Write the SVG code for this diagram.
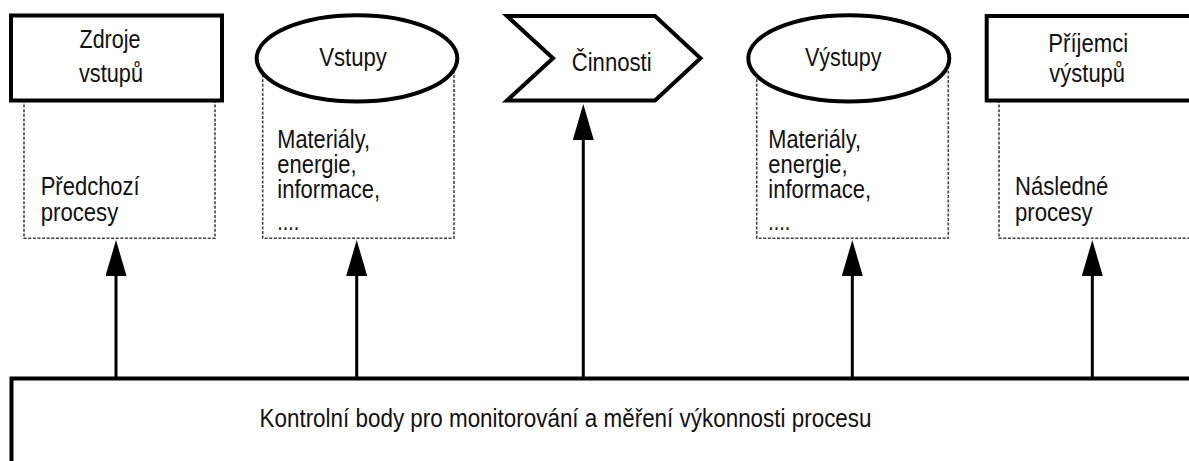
<svg xmlns="http://www.w3.org/2000/svg" width="1189" height="461" viewBox="0 0 1189 461">
  <style>
    text { font-family: "Liberation Sans", Arial, sans-serif; font-size: 25px; fill: #111; }
    .mid { text-anchor: middle; }
    .shape { fill: #fff; stroke: #000; stroke-width: 4; }
    .dash { fill: none; stroke: #444; stroke-width: 1.6; stroke-dasharray: 3 1.6; }
    .shaft { fill: none; stroke: #000; stroke-width: 3; }
  </style>
  <defs>
    <marker id="head" viewBox="0 0 36 21" refX="0" refY="10.5" markerWidth="36" markerHeight="21" markerUnits="userSpaceOnUse" orient="auto">
      <path d="M0,0 L36,10.5 L0,21 Z" fill="#000"/>
    </marker>
  </defs>

  <rect width="1189" height="461" fill="#fff"/>

  <!-- Sources of inputs -->
  <g id="zdroje">
    <path class="dash" d="M24,100 V238.3 H215 V100"/>
    <rect class="shape" x="11" y="15.5" width="211" height="85"/>
    <text class="mid" x="110" y="48.3" textLength="61" lengthAdjust="spacingAndGlyphs">Zdroje</text>
    <text class="mid" x="111" y="81.7" textLength="64" lengthAdjust="spacingAndGlyphs">vstupů</text>
    <text x="40.7" y="195" textLength="99" lengthAdjust="spacingAndGlyphs">Předchozí</text>
    <text x="40.7" y="220.7" textLength="77.6" lengthAdjust="spacingAndGlyphs">procesy</text>
  </g>

  <!-- Inputs -->
  <g id="vstupy">
    <path class="dash" d="M262.7,70 V238.3 H454 V70"/>
    <ellipse class="shape" cx="357" cy="58.4" rx="100.3" ry="43.2"/>
    <text class="mid" x="353" y="65.5" textLength="67.7" lengthAdjust="spacingAndGlyphs">Vstupy</text>
    <text x="277.3" y="148.3" textLength="92.7" lengthAdjust="spacingAndGlyphs">Materiály,</text>
    <text x="277.3" y="173.3" textLength="79.4" lengthAdjust="spacingAndGlyphs">energie,</text>
    <text x="277.3" y="198.3" textLength="102.7" lengthAdjust="spacingAndGlyphs">informace,</text>
    <text x="277.3" y="230" textLength="22" lengthAdjust="spacingAndGlyphs">....</text>
  </g>

  <!-- Activities -->
  <g id="cinnosti">
    <polygon class="shape" points="507,16 655,16 700.5,58.3 655,100.5 507,100.5 553,58.3"/>
    <text class="mid" x="611.7" y="70.5" textLength="80" lengthAdjust="spacingAndGlyphs">Činnosti</text>
  </g>

  <!-- Outputs -->
  <g id="vystupy">
    <path class="dash" d="M756.7,70 V238.3 H948.3 V70"/>
    <ellipse class="shape" cx="848.8" cy="58.4" rx="100.5" ry="43.2"/>
    <text class="mid" x="843.3" y="65.5" textLength="76.7" lengthAdjust="spacingAndGlyphs">Výstupy</text>
    <text x="768.3" y="148.3" textLength="92.7" lengthAdjust="spacingAndGlyphs">Materiály,</text>
    <text x="768.3" y="173.3" textLength="79.4" lengthAdjust="spacingAndGlyphs">energie,</text>
    <text x="768.3" y="198.3" textLength="102.7" lengthAdjust="spacingAndGlyphs">informace,</text>
    <text x="768.3" y="230" textLength="22" lengthAdjust="spacingAndGlyphs">....</text>
  </g>

  <!-- Recipients of outputs -->
  <g id="prijemci">
    <path class="dash" d="M999,100 V238.3 H1195"/>
    <rect class="shape" x="986.7" y="16" width="220" height="84.5"/>
    <text class="mid" x="1088.3" y="51.5" textLength="80" lengthAdjust="spacingAndGlyphs">Příjemci</text>
    <text class="mid" x="1087.2" y="81.7" textLength="75.7" lengthAdjust="spacingAndGlyphs">výstupů</text>
    <text x="1015" y="195" textLength="93.3" lengthAdjust="spacingAndGlyphs">Následné</text>
    <text x="1015" y="220.7" textLength="77.6" lengthAdjust="spacingAndGlyphs">procesy</text>
  </g>

  <!-- Monitoring bar -->
  <g id="kontrolni-body">
    <path d="M11.5,461 V378.5 H1195" fill="none" stroke="#000" stroke-width="4"/>
    <text x="259.5" y="426.7" textLength="612" lengthAdjust="spacingAndGlyphs">Kontrolní body pro monitorování a měření výkonnosti procesu</text>
  </g>

  <!-- Arrows from the bar up to each element -->
  <g id="connectors">
    <path class="shaft" d="M116,378.5 V276" marker-end="url(#head)"/>
    <path class="shaft" d="M356.7,378.5 V276" marker-end="url(#head)"/>
    <path class="shaft" d="M583.3,378.5 V140" marker-end="url(#head)"/>
    <path class="shaft" d="M852.3,378.5 V276" marker-end="url(#head)"/>
    <path class="shaft" d="M1092.3,378.5 V276" marker-end="url(#head)"/>
  </g>
</svg>
